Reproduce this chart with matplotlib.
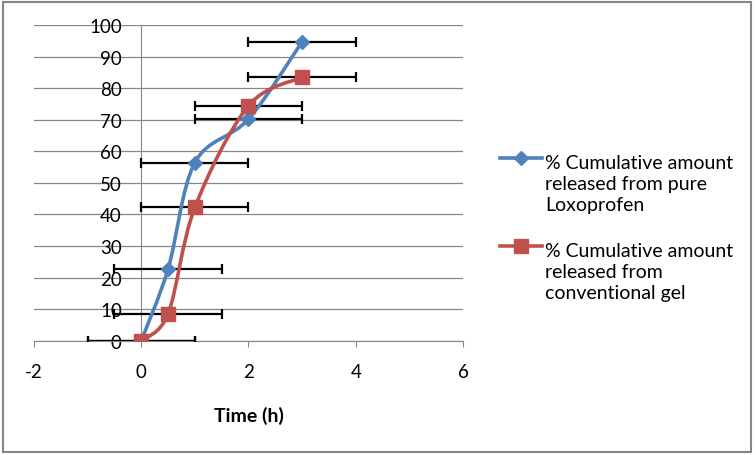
import numpy as np
import matplotlib.pyplot as plt
from matplotlib.path import Path
from matplotlib.patches import PathPatch, Rectangle
from matplotlib.lines import Line2D

# Data
time_h = [0, 0.5, 1, 2, 3]
pure_loxo = [0, 22.7, 56.4, 70.2, 94.7]
conv_gel = [0, 8.5, 42.2, 74.4, 83.4]
time_err = [1, 1, 1, 1, 1]

label_pure = '% Cumulative amount\nreleased from pure\nLoxoprofen'
label_gel = '% Cumulative amount\nreleased from\nconventional gel'

BLUE = '#4F81BD'
RED = '#C0504D'
GRID = '#868686'
W, H = 756, 456

plt.rcParams['font.family'] = ['Lato', 'DejaVu Sans']
plt.rcParams['axes.unicode_minus'] = False


def smooth_path(x, y):
    # Excel style smoothed line: cubic bezier with catmull-rom control points
    pts = np.column_stack([x, y]).astype(float)
    n = len(pts)
    verts = [pts[0]]
    codes = [Path.MOVETO]
    for i in range(n - 1):
        p0 = pts[i - 1] if i > 0 else pts[i]
        p1 = pts[i]
        p2 = pts[i + 1]
        p3 = pts[i + 2] if i + 2 < n else pts[i + 1]
        c1 = p1 + (p2 - p0) / 6
        c2 = p2 - (p3 - p1) / 6
        verts += [c1, c2, p2]
        codes += [Path.CURVE4] * 3
    return Path(verts, codes)


fig = plt.figure(figsize=(7.56, 4.56), dpi=100)
ax = fig.add_axes([0.045, 0.2507, 0.5674, 0.6923])

for ys in (pure_loxo, conv_gel):
    ax.errorbar(time_h, ys, xerr=time_err, fmt='none', ecolor='black',
                elinewidth=1.6, capsize=3.4, capthick=1.6, zorder=3)

ax.add_patch(PathPatch(smooth_path(time_h, pure_loxo), fill=False,
                       edgecolor=BLUE, lw=2.6, zorder=4))
ax.add_patch(PathPatch(smooth_path(time_h, conv_gel), fill=False,
                       edgecolor=RED, lw=2.6, zorder=4))
ax.plot(time_h, pure_loxo, ls='none', marker='D', ms=7, color=BLUE, zorder=5)
ax.plot(time_h, conv_gel, ls='none', marker='s', ms=10, color=RED, zorder=6)

ax.set_xlim(-2, 6)
ax.set_ylim(0, 100)
ax.set_xticks([-2, 0, 2, 4, 6])
ax.set_yticks(range(0, 101, 10))
ax.grid(axis='y', color=GRID, lw=0.9)
ax.set_axisbelow(True)

for s in ('top', 'right'):
    ax.spines[s].set_visible(False)
ax.spines['left'].set_position(('data', 0))
ax.spines['left'].set_color(GRID)
ax.spines['bottom'].set_color(GRID)
ax.tick_params(axis='y', length=0, pad=14, labelsize=13.5)
ax.tick_params(axis='x', length=4, color=GRID, pad=12, labelsize=13.5)
ax.set_xlabel('Time (h)', fontweight='bold', fontsize=14, labelpad=19)

# legend drawn by hand so the key sits beside the first text line
legend_items = [(label_pure, BLUE, 'D', 7, 159), (label_gel, RED, 's', 10, 247)]
for text, col, mk, ms, ytop in legend_items:
    yk = 1 - ytop / H
    fig.add_artist(Line2D([500 / W, 542 / W], [yk, yk], color=col, lw=2.6,
                          transform=fig.transFigure))
    fig.add_artist(Line2D([521 / W], [yk], color=col, marker=mk, ms=ms,
                          transform=fig.transFigure))
    fig.text(545 / W, 1 - (ytop + 25.5) / H, text, va='center', ha='left',
             fontsize=14, linespacing=1.32)

fig.add_artist(Rectangle((0.004, 0.006), 0.99, 0.988, transform=fig.transFigure,
                         fill=False, edgecolor=GRID, lw=1.5))

fig.savefig('out.png', dpi=100)
